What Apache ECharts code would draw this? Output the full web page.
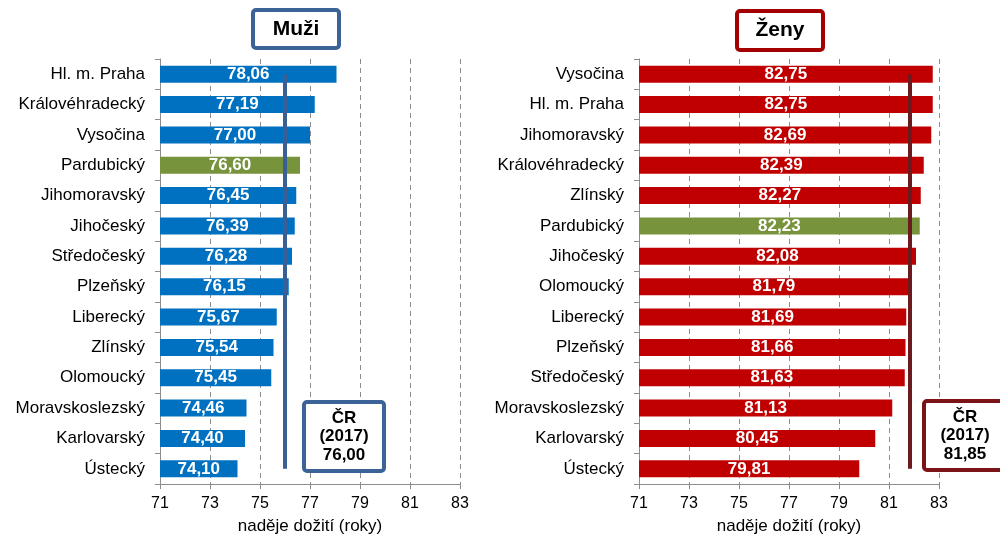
<!DOCTYPE html>
<html>
<head>
<meta charset="utf-8">
<script src="https://cdn.jsdelivr.net/npm/echarts@6/dist/echarts.min.js"></script>
<style>html,body{margin:0;padding:0;background:#fff}#c{width:1000px;height:534px}</style>
</head>
<body>
<div id="c"></div>
<script>
const menCats = ['Hl. m. Praha','Královéhradecký','Vysočina','Pardubický','Jihomoravský','Jihočeský','Středočeský','Plzeňský','Liberecký','Zlínský','Olomoucký','Moravskoslezský','Karlovarský','Ústecký'];
const menValues = [78.06,77.19,77.00,76.60,76.45,76.39,76.28,76.15,75.67,75.54,75.45,74.46,74.40,74.10];
const womenCats = ['Vysočina','Hl. m. Praha','Jihomoravský','Královéhradecký','Zlínský','Pardubický','Jihočeský','Olomoucký','Liberecký','Plzeňský','Středočeský','Moravskoslezský','Karlovarský','Ústecký'];
const womenValues = [82.75,82.75,82.69,82.39,82.27,82.23,82.08,81.79,81.69,81.66,81.63,81.13,80.45,79.81];
const crMen = 76.00;
const crWomen = 81.85;
const highlight = 'Pardubický';
const xTicks = {min: 71, max: 83, interval: 2};
const axisTitle = 'naděje dožití (roky)';
const titles = ['Muži', 'Ženy'];

const FONT = 'Liberation Sans, Arial, sans-serif';
const fmt = v => v.toFixed(2).replace('.', ',');

function xAxis(gi) {
  return {
    gridIndex: gi, type: 'value', min: xTicks.min, max: xTicks.max, interval: xTicks.interval,
    name: axisTitle, nameLocation: 'middle', nameGap: 34,
    nameTextStyle: {fontFamily: FONT, fontSize: 17, color: '#000'},
    axisLine: {show: true, lineStyle: {color: '#8c8c8c', width: 1}},
    axisTick: {show: true, length: 5, lineStyle: {color: '#8c8c8c'}},
    axisLabel: {fontFamily: FONT, fontSize: 16, color: '#000', margin: 12},
    splitLine: {show: true, lineStyle: {color: '#8c8c8c', type: [5, 4], width: 1}}
  };
}
function yAxis(gi, cats) {
  return {
    gridIndex: gi, type: 'category', data: cats, inverse: true,
    axisLine: {show: true, lineStyle: {color: '#8c8c8c', width: 1}},
    axisTick: {show: true, length: 5, lineStyle: {color: '#8c8c8c'}},
    axisLabel: {fontFamily: FONT, fontSize: 17, color: '#000', margin: 15}
  };
}
function series(gi, cats, vals, base, cr, lineColor) {
  return {
    type: 'bar', xAxisIndex: gi, yAxisIndex: gi,
    data: vals, barWidth: 17,
    itemStyle: {
      color: p => p.name === highlight ? '#77933C' : base
    },
    label: {show: true, position: 'inside', formatter: p => fmt(p.value),
      color: '#fff', fontFamily: FONT, fontWeight: 'bold', fontSize: 17},
    markLine: {
      silent: true, symbol: ['none', 'none'], label: {show: false},
      lineStyle: {color: lineColor, width: 4, type: 'solid'},
      emphasis: {disabled: true},
      data: [[{coord: [cr, cats[0]]}, {coord: [cr, cats[cats.length - 1]]}]]
    }
  };
}
function box(x, y, w, h, color, lines, fontSize, lh) {
  const out = [{
    type: 'rect', z: 100, shape: {x: x, y: y, width: w, height: h, r: 3},
    style: {fill: '#fff', stroke: color, lineWidth: 4}
  }];
  const total = lines.length * lh;
  lines.forEach((t, i) => {
    out.push({
      type: 'text', z: 101, x: x + w / 2, y: y + h / 2 - total / 2 + lh * i + lh / 2,
      style: {text: t, fill: '#000', font: 'bold ' + fontSize + 'px ' + FONT,
        align: 'center', verticalAlign: 'middle'}
    });
  });
  return out;
}

const chart = echarts.init(document.getElementById('c'), null, {renderer: 'canvas'});
chart.setOption({
  animation: false,
  backgroundColor: '#fff',
  grid: [
    {left: 160, width: 300, top: 59, height: 425, containLabel: false, outerBoundsMode: 'none'},
    {left: 639, width: 300, top: 59, height: 425, containLabel: false, outerBoundsMode: 'none'}
  ],
  xAxis: [xAxis(0), xAxis(1)],
  yAxis: [yAxis(0, menCats), yAxis(1, womenCats)],
  series: [
    series(0, menCats, menValues, '#0070C0', crMen, '#3A5F94'),
    series(1, womenCats, womenValues, '#C00000', crWomen, '#6B1B1E')
  ],
  graphic: [].concat(
    box(253, 10, 86, 38, '#3B6397', [titles[0]], 21, 24),
    box(737, 11, 86, 39, '#A50000', [titles[1]], 21, 24),
    box(304, 402, 80, 69, '#3B6397', ['ČR', '(2017)', fmt(crMen)], 17, 18.5),
    box(924, 401, 82, 69, '#7B1416', ['ČR', '(2017)', fmt(crWomen)], 17, 18.5)
  )
});
</script>
</body>
</html>
